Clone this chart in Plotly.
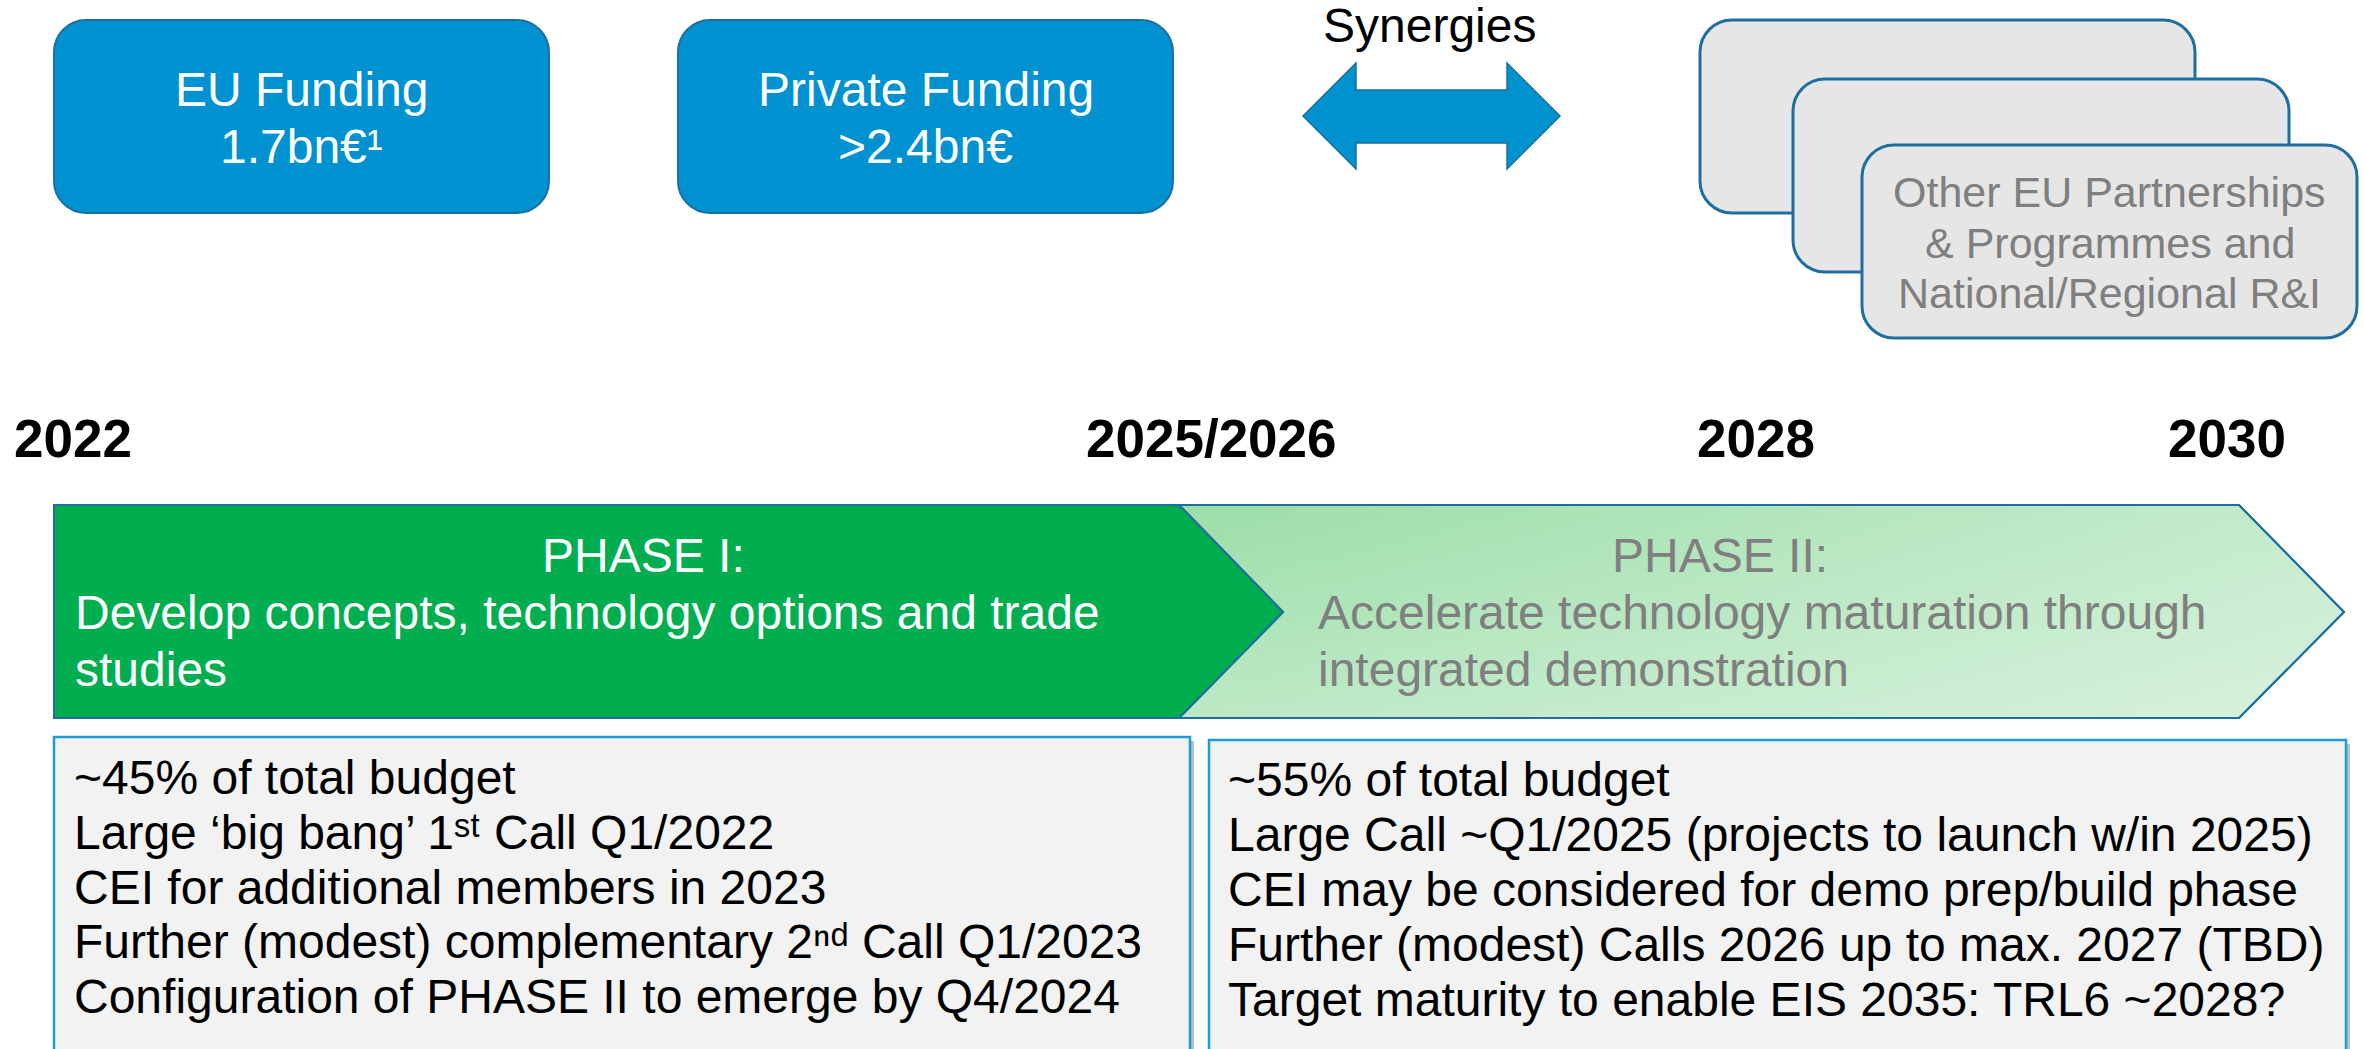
import plotly.graph_objects as go

# ---- content -------------------------------------------------------------
funding_titles = ["EU Funding", "Private Funding"]
funding_amounts = ["1.7bn€¹", ">2.4bn€"]
synergy_label = "Synergies"
partner_lines = ["Other EU Partnerships", "& Programmes and", "National/Regional R&I"]
years = ["2022", "2025/2026", "2028", "2030"]

phase1_title = "PHASE I:"
phase1_lines = ["Develop concepts, technology options and trade", "studies"]
phase2_title = "PHASE II:"
phase2_lines = ["Accelerate technology maturation through", "integrated demonstration"]

phase1_notes = [
    "~45% of total budget",
    "Large ‘big bang’ 1ˢᵗ Call Q1/2022",
    "CEI for additional members in 2023",
    "Further (modest) complementary 2ⁿᵈ Call Q1/2023",
    "Configuration of PHASE II to emerge by Q4/2024",
]
phase2_notes = [
    "~55% of total budget",
    "Large Call ~Q1/2025 (projects to launch w/in 2025)",
    "CEI may be considered for demo prep/build phase",
    "Further (modest) Calls 2026 up to max. 2027 (TBD)",
    "Target maturity to enable EIS 2035: TRL6 ~2028?",
]

# ---- layout (pixel canvas) -----------------------------------------------
W, H = 2364, 1049
FONT = "Liberation Sans, Arial, sans-serif"
FS = 48
BLUE = "#0092D0"
EDGE = "#1E6E9F"
GREEN = "#00AE50"
GREY_TXT = "#7F7F7F"

funding_boxes = [(54, 20, 549, 213), (678, 20, 1173, 213)]
partner_boxes = [(1700, 20, 2195, 213), (1793, 79, 2289, 272), (1862, 145, 2357, 338)]
year_x = [73, 1211, 1756, 2227]
note_boxes = [(54, 737, 1190, 1060), (1209, 740, 2346, 1060)]

fig = go.Figure()
shapes = []
ann = []


def rrect(x0, y0, x1, y1, r):
    k = 0.4477 * r
    return (f"M{x0+r},{y0} L{x1-r},{y0} C{x1-k},{y0} {x1},{y0+k} {x1},{y0+r} "
            f"L{x1},{y1-r} C{x1},{y1-k} {x1-k},{y1} {x1-r},{y1} "
            f"L{x0+r},{y1} C{x0+k},{y1} {x0},{y1-k} {x0},{y1-r} "
            f"L{x0},{y0+r} C{x0},{y0+k} {x0+k},{y0} {x0+r},{y0} Z")


def text(x, base, s, size=FS, color="black", anchor="left"):
    if anchor == "left":
        x -= 3  # annotation inner padding
    ann.append(dict(x=x, y=base - 0.35 * size, text=s, showarrow=False,
                    xanchor=anchor, yanchor="middle", xref="x", yref="y",
                    font=dict(family=FONT, size=size, color=color)))


# funding boxes
for (x0, y0, x1, y1), t, a in zip(funding_boxes, funding_titles, funding_amounts):
    shapes.append(dict(type="path", path=rrect(x0, y0, x1, y1, 32),
                       fillcolor=BLUE, line=dict(color=EDGE, width=2)))
    cx = (x0 + x1) / 2
    text(cx, 106, t, color="white", anchor="center")
    text(cx, 163, a, color="white", anchor="center")

# synergies double arrow
text(1429, 42, synergy_label, anchor="center")
shapes.append(dict(type="path",
                   path="M1303,116 L1356,63 L1356,90 L1507,90 L1507,63 L1560,116 "
                        "L1507,169 L1507,143 L1356,143 L1356,169 Z",
                   fillcolor="#0091CF", line=dict(color=EDGE, width=1.5)))

# stacked partnership boxes
for (x0, y0, x1, y1) in partner_boxes:
    shapes.append(dict(type="path", path=rrect(x0, y0, x1, y1, 32),
                       fillcolor="#E6E6E6", line=dict(color=EDGE, width=3)))
px0, _, px1, _ = partner_boxes[-1]
for line, base in zip(partner_lines, [207, 258, 308]):
    text((px0 + px1) / 2, base, line, size=43, color=GREY_TXT, anchor="center")

# year labels
for x, y in zip(year_x, years):
    text(x, 457, f"<b>{y}</b>", size=53, anchor="center")

# phase II chevron with gradient (trace, drawn below shapes)
p2x = [1179, 2239, 2344, 2239, 1179, 1283, 1179]
p2y = [505, 505, 612, 718, 718, 612, 505]
fig.add_trace(go.Scatter(
    x=p2x, y=p2y, mode="lines", fill="toself", hoverinfo="skip",
    line=dict(color=EDGE, width=2),
    fillgradient=dict(type="horizontal", start=1179, stop=2344,
                      colorscale=[[0, "#9BDEA8"], [1, "#C6EBCD"]])))
fig.add_trace(go.Scatter(
    x=p2x, y=p2y, mode="lines", fill="toself", hoverinfo="skip",
    line=dict(color=EDGE, width=2),
    fillgradient=dict(type="vertical", start=505, stop=718,
                      colorscale=[[0, "rgba(255,255,255,0)"], [1, "rgba(255,255,255,0.32)"]])))

# phase I chevron
shapes.append(dict(type="path", path="M54,505 L1179,505 L1283,612 L1179,718 L54,718 Z",
                   fillcolor=GREEN, line=dict(color=EDGE, width=2)))

text(643, 572, phase1_title, color="white", anchor="center")
for line, base in zip(phase1_lines, [629, 686]):
    text(76, base, line, color="white")
text(1720, 572, phase2_title, color=GREY_TXT, anchor="center")
for line, base in zip(phase2_lines, [629, 686]):
    text(1319, base, line, color=GREY_TXT)

# note boxes
for (x0, y0, x1, y1) in note_boxes:
    shapes.append(dict(type="rect", x0=x0 + 4, y0=y0 + 4, x1=x1 + 4, y1=y1,
                       fillcolor="rgba(0,0,0,0.25)", line=dict(width=0)))
    shapes.append(dict(type="rect", x0=x0, y0=y0, x1=x1, y1=y1,
                       fillcolor="#F2F2F2", line=dict(color="#1B9DD9", width=2.5)))
for line, base in zip(phase1_notes, [794, 849, 904, 958, 1013]):
    text(75, base, line)
for line, base in zip(phase2_notes, [796, 851, 906, 961, 1016]):
    text(1229, base, line)

fig.update_layout(
    width=W, height=H, margin=dict(l=0, r=0, t=0, b=0),
    paper_bgcolor="white", plot_bgcolor="white", showlegend=False,
    xaxis=dict(range=[0, W], visible=False, fixedrange=True),
    yaxis=dict(range=[H, 0], visible=False, fixedrange=True),
    shapes=shapes, annotations=ann,
)

# page body has a default 8px margin; drop it so the canvas sits at 0,0
fig.write_html("out.html", config={"displayModeBar": False},
               post_script="document.body.style.margin='0';document.body.style.overflow='hidden';")
